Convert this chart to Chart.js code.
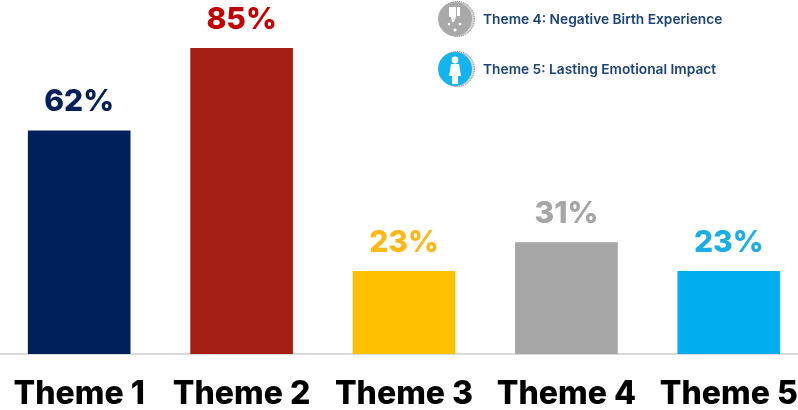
<!DOCTYPE html>
<html>
<head>
<meta charset="utf-8">
<title>Themes</title>
<script src="https://cdn.jsdelivr.net/npm/chart.js@4"></script>
<style>
  html, body { margin: 0; padding: 0; background: #fff; }
  body { width: 798px; height: 410px; overflow: hidden; position: relative; }
  #wrap { position: absolute; left: -2px; top: 0; width: 812px; height: 410px; }
  .key { position: absolute; left: 437px; height: 38px; display: flex; align-items: center; }
  .key svg { width: 38px; height: 38px; flex: none; }
  .key span { margin-left: 8px; font: 600 13.75px Inter, sans-serif; color: #1d4476; white-space: nowrap; }
</style>
</head>
<body>
<div id="wrap"><canvas id="themes"></canvas></div>

<div class="key" style="top:0">
  <svg viewBox="0 0 38 38">
    <circle cx="20" cy="19" r="17.5" fill="#d6d6d6" stroke="#777" stroke-width="1" stroke-dasharray="1 1"/>
    <circle cx="18" cy="19" r="17" fill="#a9a9a9"/>
    <path d="M12 7h7v10l-2 5h-2l-1-5h-2z M20 7h3v9h-3z" fill="#fff"/>
    <circle cx="12" cy="24" r="1.3" fill="#fff"/><circle cx="23" cy="24" r="1.3" fill="#fff"/><circle cx="18" cy="30" r="1.6" fill="#fff"/>
  </svg>
  <span>Theme 4: Negative Birth Experience</span>
</div>
<div class="key" style="top:50px">
  <svg viewBox="0 0 38 38">
    <circle cx="20" cy="19" r="17.5" fill="#d6d6d6" stroke="#777" stroke-width="1" stroke-dasharray="1 1"/>
    <circle cx="18" cy="19" r="17" fill="#16b4ec"/>
    <circle cx="18" cy="10" r="3.4" fill="#fff"/>
    <path d="M14 14h8l2 12h-3v8h-6v-8h-3z" fill="#fff"/>
  </svg>
  <span>Theme 5: Lasting Emotional Impact</span>
</div>

<script>
const categories = ['Theme 1', 'Theme 2', 'Theme 3', 'Theme 4', 'Theme 5'];
const percents = [62, 85, 23, 31, 23];
const barColors = ['#00205b', '#a51f17', '#ffc000', '#a6a6a6', '#00aeef'];
const labelColors = ['#00205b', '#c00000', '#ffb81c', '#a6a6a6', '#1cade4'];

// percent labels above each bar
const valueLabels = {
  id: 'valueLabels',
  afterDatasetsDraw(chart) {
    const ctx = chart.ctx;
    ctx.save();
    ctx.font = '800 30px Inter, sans-serif';
    ctx.textAlign = 'center';
    ctx.textBaseline = 'alphabetic';
    chart.getDatasetMeta(0).data.forEach((bar, i) => {
      ctx.fillStyle = labelColors[i];
      ctx.fillText(percents[i] + '%', bar.x, bar.y - 19.5);
    });
    ctx.restore();
  }
};

new Chart(document.getElementById('themes'), {
  type: 'bar',
  data: {
    labels: categories,
    datasets: [{ data: percents, backgroundColor: barColors, barThickness: 102 }]
  },
  options: {
    responsive: true,
    maintainAspectRatio: false,
    animation: false,
    layout: { padding: 0 },
    plugins: { legend: { display: false }, tooltip: { enabled: false } },
    scales: {
      x: {
        grid: { display: false, drawTicks: false },
        border: { color: '#d9d9d9', width: 2 },
        afterFit(scale) {
          // labels overhang the plot edges, keep the bands full width
          scale.height = 56;
          scale.paddingLeft = 0;
          scale.paddingRight = 0;
        },
        ticks: {
          color: '#000',
          padding: 21,
          maxRotation: 0,
          autoSkip: false,
          font: { family: 'Inter, sans-serif', size: 32, weight: '800' }
        }
      },
      y: { display: false, min: 0, max: 98.4 }
    }
  },
  plugins: [valueLabels]
});
</script>
</body>
</html>
